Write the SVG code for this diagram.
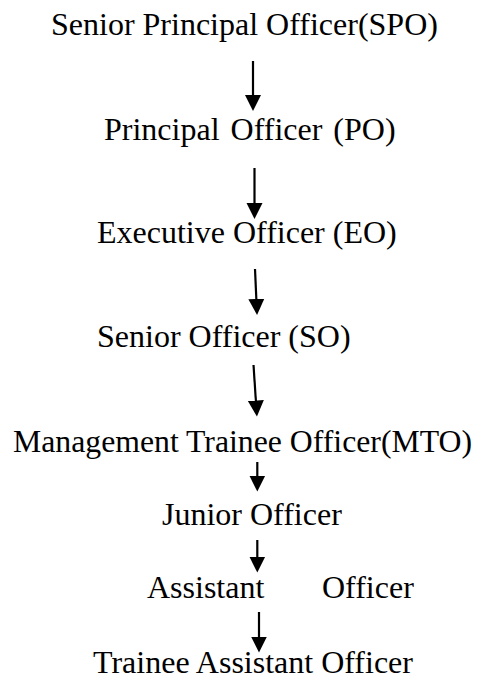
<svg xmlns="http://www.w3.org/2000/svg" width="482" height="681" viewBox="0 0 482 681">
  <defs>
    <!-- solid triangular arrowhead, tip 7.5 units past the line end -->
    <marker id="head" markerUnits="userSpaceOnUse" markerWidth="17" markerHeight="17" viewBox="0 0 17 17" refX="8" refY="8.5" orient="auto">
      <path d="M0,0.5 L16,8.5 L0,16.5 Z" fill="#000"/>
    </marker>
    <style>
      .lbl { font-family: "Liberation Serif", "Times New Roman", serif; font-size: 32px; fill: #000; }
      .link { stroke: #000; stroke-width: 2.2; fill: none; marker-end: url(#head); }
    </style>
  </defs>
  <rect width="482" height="681" fill="#fff"/>

  <g id="connectors">
    <path class="link" d="M253,61 L253,103"/>
    <path class="link" d="M254.5,168 L254.5,211"/>
    <path class="link" d="M255,269 L256.7,307"/>
    <path class="link" d="M253.5,365 L256.4,408.5"/>
    <path class="link" d="M257.3,462 L257.3,483.5"/>
    <path class="link" d="M257.3,540 L257.3,564.5"/>
    <path class="link" d="M259,612 L259,644.5"/>
  </g>

  <g id="node-spo"><text class="lbl" x="51" y="35">Senior Principal Officer(SPO)</text></g>
  <g id="node-po"><text class="lbl" x="104" y="140" word-spacing="3">Principal Officer (PO)</text></g>
  <g id="node-eo"><text class="lbl" x="97" y="243">Executive Officer (EO)</text></g>
  <g id="node-so"><text class="lbl" x="97" y="347">Senior Officer (SO)</text></g>
  <g id="node-mto"><text class="lbl" x="13" y="452" textLength="459" lengthAdjust="spacingAndGlyphs">Management Trainee Officer(MTO)</text></g>
  <g id="node-jo"><text class="lbl" x="162" y="525">Junior Officer</text></g>
  <g id="node-ao"><text class="lbl" x="147" y="598">Assistant</text><text class="lbl" x="322" y="598">Officer</text></g>
  <g id="node-tao"><text class="lbl" x="93" y="673">Trainee Assistant Officer</text></g>
</svg>
